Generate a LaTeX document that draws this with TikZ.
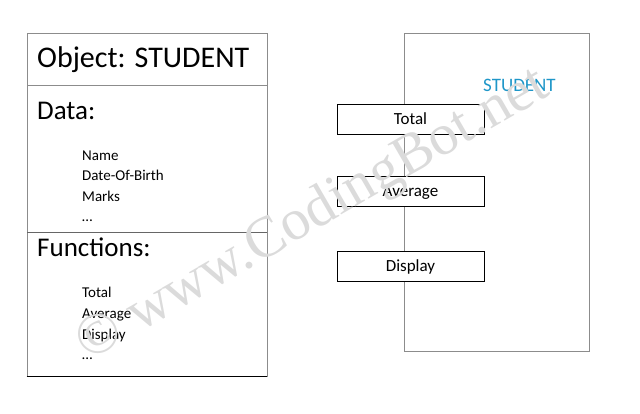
\documentclass[tikz,border=0pt]{standalone}
\usepackage{fontspec}
\setmainfont{Carlito}
\newfontfamily\wmfont{Liberation Serif}
\usetikzlibrary{positioning}
\definecolor{studentblue}{RGB}{30,150,200}

\begin{document}
\begin{tikzpicture}[
  x=1pt, y=-1pt,
  frame/.style={rectangle, draw=black!45, line width=0.8pt, inner sep=0pt},
  method/.style={rectangle, draw, fill=white, line width=0.7pt, minimum width=147pt, minimum height=30pt, inner sep=0pt, text height=11pt, text depth=0pt, font=\fontsize{17}{20}\selectfont},
  heading/.style={anchor=base west, inner sep=0pt, font=\fontsize{27}{30}\selectfont},
  member/.style={anchor=base west, inner sep=0pt, font=\fontsize{15}{18}\selectfont}
]
  \useasboundingbox (0,0) rectangle (640,414);

  % Object box - left side
  \node[frame, minimum width=240pt, minimum height=343pt] (objbox) at (147,204.5) {};
  \draw[black, line width=0.8pt] (objbox.south west) -- (objbox.south east);
  \draw[black!45, line width=0.8pt] (27,85) -- (267,85);
  \draw[black!60, line width=0.8pt] (27,232) -- (267,232);

  \node[heading, font=\fontsize{30}{34}\selectfont] (title) at (37,68) {Object: STUDENT};

  % Data members
  \node[heading] (data) at (37,120) {Data:};
  \node[member] (name) at (82,161) {Name};
  \node[member] (dob) at (82,181) {Date-Of-Birth};
  \node[member] (marks) at (82,202) {Marks};
  \node[member] (moredata) at (82,222) {…};

  % Member functions
  \node[heading] (functions) at (37,257) {Functions:};
  \node[member] (ftotal) at (82,297) {Total};
  \node[member] (faverage) at (82,318) {Average};
  \node[member] (fdisplay) at (82,339) {Display};
  \node[member] (morefun) at (82,359) {…};

  % Class box - right side
  \node[frame, minimum width=185pt, minimum height=318pt] (student) at (496.5,192) {};
  \node[anchor=base west, inner sep=0pt, text=studentblue, font=\fontsize{19}{22}\selectfont] (stlabel) at (483,92) {STUDENT};

  \node[method] (total) at (410.5,119) {Total};
  \node[method] (average) at (410.5,191) {Average};
  \node[method] (display) at (410.5,266) {Display};

  % Watermark
  \node[rotate=30, anchor=base, inner sep=0pt, text=black!14, font=\wmfont\fontsize{58}{60}\selectfont] (mark) at (320,228) {© www.CodingBot.net};
\end{tikzpicture}
\end{document}
